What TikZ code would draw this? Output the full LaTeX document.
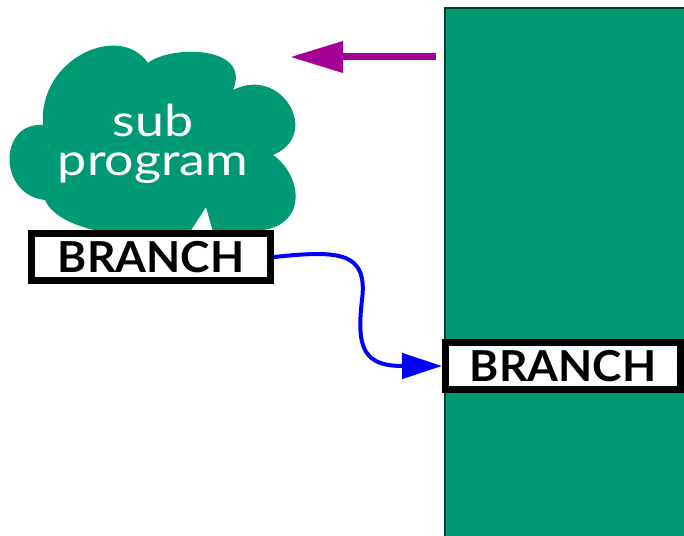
\documentclass[tikz,border=0pt]{standalone}
\usepackage{fontspec}
\setmainfont{Lato}
\newfontfamily\cloudfont[FakeStretch=1.18]{Lato}
\newfontfamily\boxfont[FakeStretch=1.04]{Lato Bold}
\usetikzlibrary{arrows.meta}
\definecolor{cloudgreen}{RGB}{0,153,117}
\definecolor{edgegreen}{RGB}{0,60,45}
\definecolor{callpurple}{RGB}{165,0,150}
\definecolor{jumpblue}{RGB}{0,0,255}
\tikzset{
  branchbox/.style={draw=black, fill=white, line width=5.25pt, inner sep=0pt,
    minimum width=179.25pt, minimum height=35.25pt,
    font=\boxfont\fontsize{32}{32}\selectfont},
  cloudtext/.style={text=white, align=center,
    font=\cloudfont\fontsize{33}{29.25}\selectfont},
}
\begin{document}
\begin{tikzpicture}[x=0.75pt, y=-0.75pt]
\useasboundingbox (0,0) rectangle (684,535);
\clip (0,0) rectangle (684,535);

% main program block
\draw[fill=cloudgreen, draw=edgegreen, line width=1pt] (445,8) rectangle (720,560);
\coordinate (mainleft) at (436,57);

% the subprogram cloud
\fill[cloudgreen]
  (43,125) .. controls (38,58) and (120,22) .. (148,63)
  .. controls (170,45) and (252,45) .. (233,90)
  .. controls (282,65) and (322,135) .. (273,155)
  .. controls (302,175) and (310,228) .. (255,231)
  -- (213,232) -- (206,207) -- (190,232)
  .. controls (150,242) and (60,235) .. (45,200)
  .. controls (-2,195) and (-2,122) .. (43,125) -- cycle;
\node[cloudtext] (sub) at (153,144) {sub\\program};
\coordinate (cloudtip) at (290,57);

% BRANCH instructions
\node[branchbox] (b1) at (151,257) {BRANCH};
\node[branchbox, minimum width=176.25pt] (b2) at (563,366) {BRANCH};

% call arrow and branch arrow
\draw[callpurple, line width=5.25pt,
  -{Triangle[length=39.75pt, width=22.5pt]}] (mainleft) -- (cloudtip);
\draw[jumpblue, line width=3pt,
  -{Triangle[length=30pt, width=19pt]}]
  (b1.east) .. controls (340,250) and (368,252) .. (362,300)
  .. controls (356,350) and (365,366) .. (b2.west);
\end{tikzpicture}
\end{document}
